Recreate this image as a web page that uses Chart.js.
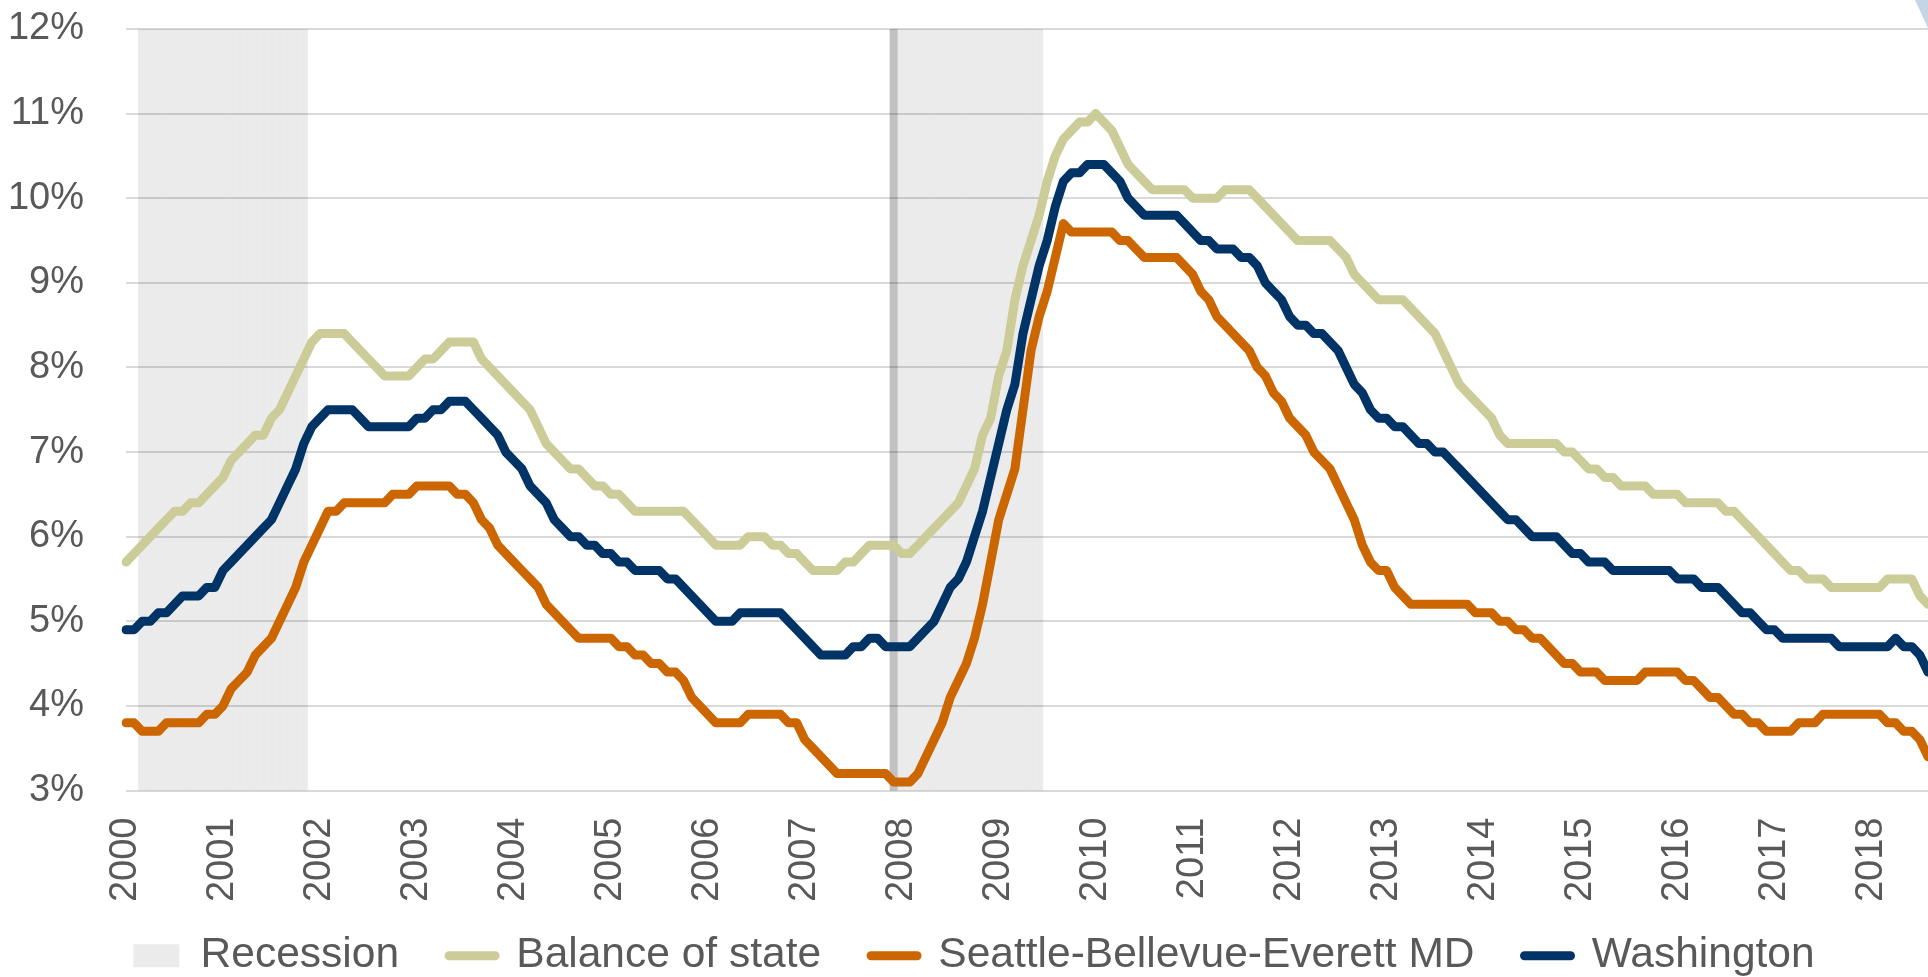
<!DOCTYPE html>
<html lang="en">
<head>
<meta charset="utf-8">
<title>Unemployment rate, Washington 2000-2018</title>
<script src="https://cdn.jsdelivr.net/npm/chart.js@4.4.1/dist/chart.umd.min.js"></script>
<style>
    html, body { margin: 0; padding: 0; background: #ffffff; }
    #chart-wrap { width: 1928px; height: 977px; }
</style>
</head>
<body>
<div id="chart-wrap"><canvas id="unemployment-chart" width="1928" height="977"></canvas></div>
<script>
// Monthly unemployment rate (%), Jan 2000 - Aug 2018, one row per year
const balanceOfState = [
    5.7, 5.8, 5.9, 6.0, 6.1, 6.2, 6.3, 6.3, 6.4, 6.4, 6.5, 6.6,
    6.7, 6.9, 7.0, 7.1, 7.2, 7.2, 7.4, 7.5, 7.7, 7.9, 8.1, 8.3,
    8.4, 8.4, 8.4, 8.4, 8.3, 8.2, 8.1, 8.0, 7.9, 7.9, 7.9, 7.9,
    8.0, 8.1, 8.1, 8.2, 8.3, 8.3, 8.3, 8.3, 8.1, 8.0, 7.9, 7.8,
    7.7, 7.6, 7.5, 7.3, 7.1, 7.0, 6.9, 6.8, 6.8, 6.7, 6.6, 6.6,
    6.5, 6.5, 6.4, 6.3, 6.3, 6.3, 6.3, 6.3, 6.3, 6.3, 6.2, 6.1,
    6.0, 5.9, 5.9, 5.9, 5.9, 6.0, 6.0, 6.0, 5.9, 5.9, 5.8, 5.8,
    5.7, 5.6, 5.6, 5.6, 5.6, 5.7, 5.7, 5.8, 5.9, 5.9, 5.9, 5.9,
    5.8, 5.8, 5.9, 6.0, 6.1, 6.2, 6.3, 6.4, 6.6, 6.8, 7.2, 7.4,
    7.9, 8.2, 8.8, 9.2, 9.5, 9.8, 10.2, 10.5, 10.7, 10.8, 10.9, 10.9,
    11.0, 10.9, 10.8, 10.6, 10.4, 10.3, 10.2, 10.1, 10.1, 10.1, 10.1, 10.1,
    10.0, 10.0, 10.0, 10.0, 10.1, 10.1, 10.1, 10.1, 10.0, 9.9, 9.8, 9.7,
    9.6, 9.5, 9.5, 9.5, 9.5, 9.5, 9.4, 9.3, 9.1, 9.0, 8.9, 8.8,
    8.8, 8.8, 8.8, 8.7, 8.6, 8.5, 8.4, 8.2, 8.0, 7.8, 7.7, 7.6,
    7.5, 7.4, 7.2, 7.1, 7.1, 7.1, 7.1, 7.1, 7.1, 7.1, 7.0, 7.0,
    6.9, 6.8, 6.8, 6.7, 6.7, 6.6, 6.6, 6.6, 6.6, 6.5, 6.5, 6.5,
    6.5, 6.4, 6.4, 6.4, 6.4, 6.4, 6.3, 6.3, 6.2, 6.1, 6.0, 5.9,
    5.8, 5.7, 5.6, 5.6, 5.5, 5.5, 5.5, 5.4, 5.4, 5.4, 5.4, 5.4,
    5.4, 5.4, 5.5, 5.5, 5.5, 5.5, 5.3, 5.2
];

const seattleBellevueEverett = [
    3.8, 3.8, 3.7, 3.7, 3.7, 3.8, 3.8, 3.8, 3.8, 3.8, 3.9, 3.9,
    4.0, 4.2, 4.3, 4.4, 4.6, 4.7, 4.8, 5.0, 5.2, 5.4, 5.7, 5.9,
    6.1, 6.3, 6.3, 6.4, 6.4, 6.4, 6.4, 6.4, 6.4, 6.5, 6.5, 6.5,
    6.6, 6.6, 6.6, 6.6, 6.6, 6.5, 6.5, 6.4, 6.2, 6.1, 5.9, 5.8,
    5.7, 5.6, 5.5, 5.4, 5.2, 5.1, 5.0, 4.9, 4.8, 4.8, 4.8, 4.8,
    4.8, 4.7, 4.7, 4.6, 4.6, 4.5, 4.5, 4.4, 4.4, 4.3, 4.1, 4.0,
    3.9, 3.8, 3.8, 3.8, 3.8, 3.9, 3.9, 3.9, 3.9, 3.9, 3.8, 3.8,
    3.6, 3.5, 3.4, 3.3, 3.2, 3.2, 3.2, 3.2, 3.2, 3.2, 3.2, 3.1,
    3.1, 3.1, 3.2, 3.4, 3.6, 3.8, 4.1, 4.3, 4.5, 4.8, 5.2, 5.7,
    6.2, 6.5, 6.8, 7.5, 8.2, 8.6, 8.9, 9.3, 9.7, 9.6, 9.6, 9.6,
    9.6, 9.6, 9.6, 9.5, 9.5, 9.4, 9.3, 9.3, 9.3, 9.3, 9.3, 9.2,
    9.1, 8.9, 8.8, 8.6, 8.5, 8.4, 8.3, 8.2, 8.0, 7.9, 7.7, 7.6,
    7.4, 7.3, 7.2, 7.0, 6.9, 6.8, 6.6, 6.4, 6.2, 5.9, 5.7, 5.6,
    5.6, 5.4, 5.3, 5.2, 5.2, 5.2, 5.2, 5.2, 5.2, 5.2, 5.2, 5.1,
    5.1, 5.1, 5.0, 5.0, 4.9, 4.9, 4.8, 4.8, 4.7, 4.6, 4.5, 4.5,
    4.4, 4.4, 4.4, 4.3, 4.3, 4.3, 4.3, 4.3, 4.4, 4.4, 4.4, 4.4,
    4.4, 4.3, 4.3, 4.2, 4.1, 4.1, 4.0, 3.9, 3.9, 3.8, 3.8, 3.7,
    3.7, 3.7, 3.7, 3.8, 3.8, 3.8, 3.9, 3.9, 3.9, 3.9, 3.9, 3.9,
    3.9, 3.9, 3.8, 3.8, 3.7, 3.7, 3.6, 3.4
];

const washington = [
    4.9, 4.9, 5.0, 5.0, 5.1, 5.1, 5.2, 5.3, 5.3, 5.3, 5.4, 5.4,
    5.6, 5.7, 5.8, 5.9, 6.0, 6.1, 6.2, 6.4, 6.6, 6.8, 7.1, 7.3,
    7.4, 7.5, 7.5, 7.5, 7.5, 7.4, 7.3, 7.3, 7.3, 7.3, 7.3, 7.3,
    7.4, 7.4, 7.5, 7.5, 7.6, 7.6, 7.6, 7.5, 7.4, 7.3, 7.2, 7.0,
    6.9, 6.8, 6.6, 6.5, 6.4, 6.2, 6.1, 6.0, 6.0, 5.9, 5.9, 5.8,
    5.8, 5.7, 5.7, 5.6, 5.6, 5.6, 5.6, 5.5, 5.5, 5.4, 5.3, 5.2,
    5.1, 5.0, 5.0, 5.0, 5.1, 5.1, 5.1, 5.1, 5.1, 5.1, 5.0, 4.9,
    4.8, 4.7, 4.6, 4.6, 4.6, 4.6, 4.7, 4.7, 4.8, 4.8, 4.7, 4.7,
    4.7, 4.7, 4.8, 4.9, 5.0, 5.2, 5.4, 5.5, 5.7, 6.0, 6.3, 6.7,
    7.1, 7.5, 7.8, 8.4, 8.8, 9.2, 9.5, 9.9, 10.2, 10.3, 10.3, 10.4,
    10.4, 10.4, 10.3, 10.2, 10.0, 9.9, 9.8, 9.8, 9.8, 9.8, 9.8, 9.7,
    9.6, 9.5, 9.5, 9.4, 9.4, 9.4, 9.3, 9.3, 9.2, 9.0, 8.9, 8.8,
    8.6, 8.5, 8.5, 8.4, 8.4, 8.3, 8.2, 8.0, 7.8, 7.7, 7.5, 7.4,
    7.4, 7.3, 7.3, 7.2, 7.1, 7.1, 7.0, 7.0, 6.9, 6.8, 6.7, 6.6,
    6.5, 6.4, 6.3, 6.2, 6.2, 6.1, 6.0, 6.0, 6.0, 6.0, 5.9, 5.8,
    5.8, 5.7, 5.7, 5.7, 5.6, 5.6, 5.6, 5.6, 5.6, 5.6, 5.6, 5.6,
    5.5, 5.5, 5.5, 5.4, 5.4, 5.4, 5.3, 5.2, 5.1, 5.1, 5.0, 4.9,
    4.9, 4.8, 4.8, 4.8, 4.8, 4.8, 4.8, 4.8, 4.7, 4.7, 4.7, 4.7,
    4.7, 4.7, 4.7, 4.8, 4.7, 4.7, 4.6, 4.4
];

// Shaded recession periods (first and last month), and the darker peak month
const recessionPeriods = [['2000-03', '2001-11'], ['2007-12', '2009-06']];
const cyclePeakMonths = ['2007-12'];

const yTickValues = [3, 4, 5, 6, 7, 8, 9, 10, 11, 12];
const startYear = 2000;

const FONT = "'Liberation Sans', Arial, sans-serif";
const TEXT_COLOR = '#595959';

document.addEventListener('DOMContentLoaded', function() {
    drawUnemploymentChart();
});

// month keys like 2000-01, one per data point
function buildMonths(count) {
    const months = [];
    for (let i = 0; i < count; i++) {
        const year = startYear + Math.floor(i / 12);
        const month = String(i % 12 + 1).padStart(2, '0');
        months.push(year + '-' + month);
    }
    return months;
}

// legend sits partly inside the space of the rotated year labels
const legendOffset = {
    id: 'legendOffset',
    afterLayout(chart, args, opts) {
        const legend = chart.legend;
        if (!legend) return;
        legend.left += opts.x;
        legend.right += opts.x;
        legend.top += opts.y;
        legend.bottom += opts.y;
    }
};

// thin light-blue wedge in the top right corner
const cornerAccent = {
    id: 'cornerAccent',
    afterDraw(chart) {
        const { ctx, width } = chart;
        ctx.save();
        ctx.fillStyle = '#c4d5e6';
        ctx.beginPath();
        ctx.moveTo(width - 13, 0);
        ctx.lineTo(width, 0);
        ctx.lineTo(width, 28);
        ctx.closePath();
        ctx.fill();
        ctx.restore();
    }
};

function drawUnemploymentChart() {
    const canvas = document.getElementById('unemployment-chart');
    const ctx = canvas.getContext('2d');

    const months = buildMonths(washington.length);
    const yMin = yTickValues[0];
    const yMax = yTickValues[yTickValues.length - 1];

    const recessionBars = months.map(m =>
        recessionPeriods.some(([from, to]) => m >= from && m <= to) ? yMax : null);
    const peakBars = months.map(m => cyclePeakMonths.includes(m) ? yMax : null);

    const lineStyle = {
        borderWidth: 9,
        pointRadius: 0,
        pointHoverRadius: 0,
        tension: 0,
        fill: false,
        borderJoinStyle: 'round',
        borderCapStyle: 'round'
    };

    const barStyle = {
        type: 'bar',
        barPercentage: 1,
        categoryPercentage: 1,
        grouped: false,
        inflateAmount: 0,
        borderWidth: 0
    };

    new Chart(ctx, {
        type: 'line',
        data: {
            labels: months,
            datasets: [{
                ...barStyle,
                label: 'Recession',
                data: recessionBars,
                backgroundColor: 'rgba(0, 0, 0, 0.078)',
                order: 4
            }, {
                ...barStyle,
                label: 'Recession peak',
                data: peakBars,
                backgroundColor: 'rgba(0, 0, 0, 0.18)',
                hideInLegend: true,
                order: 3
            }, {
                ...lineStyle,
                label: 'Balance of state',
                data: balanceOfState,
                borderColor: '#cccc99',
                backgroundColor: '#cccc99',
                order: 2
            }, {
                ...lineStyle,
                label: 'Seattle-Bellevue-Everett MD',
                data: seattleBellevueEverett,
                borderColor: '#cc6600',
                backgroundColor: '#cc6600',
                order: 1
            }, {
                ...lineStyle,
                label: 'Washington',
                data: washington,
                borderColor: '#003366',
                backgroundColor: '#003366',
                order: 0
            }]
        },
        options: {
            responsive: false,
            devicePixelRatio: 1,
            animation: false,
            layout: {
                padding: { top: 29, right: 0, bottom: -32, left: 0 }
            },
            plugins: {
                tooltip: { enabled: false },
                legendOffset: { x: 10, y: -22 },
                legend: {
                    position: 'bottom',
                    labels: {
                        usePointStyle: true,
                        pointStyleWidth: 46,
                        boxHeight: 23,
                        padding: 50,
                        color: TEXT_COLOR,
                        font: { family: FONT, size: 42.5 },
                        filter: (item, data) => !data.datasets[item.datasetIndex].hideInLegend,
                        sort: (a, b) => a.datasetIndex - b.datasetIndex,
                        generateLabels: function(chart) {
                            const items = Chart.defaults.plugins.legend.labels.generateLabels(chart);
                            items.forEach(item => {
                                const ds = chart.data.datasets[item.datasetIndex];
                                if (ds.type === 'bar') {
                                    item.pointStyle = 'rect';
                                } else {
                                    item.pointStyle = 'line';
                                    item.strokeStyle = ds.borderColor;
                                    item.lineWidth = ds.borderWidth;
                                    item.lineCap = 'round';
                                }
                            });
                            return items;
                        }
                    }
                }
            },
            scales: {
                x: {
                    type: 'category',
                    offset: false,
                    grid: { display: false, drawTicks: true, tickLength: 27 },
                    border: { display: false },
                    ticks: {
                        autoSkip: false,
                        minRotation: 90,
                        maxRotation: 90,
                        padding: 0,
                        color: TEXT_COLOR,
                        font: { family: FONT, size: 38 },
                        callback: function(value) {
                            const label = this.getLabelForValue(value);
                            return label.endsWith('-01') ? label.slice(0, 4) : null;
                        }
                    },
                    afterFit: scale => { scale.height = 116; }
                },
                y: {
                    min: yMin,
                    max: yMax,
                    grid: {
                        color: '#d9d9d9',
                        lineWidth: 2,
                        drawTicks: true,
                        tickLength: 42,
                        tickColor: 'rgba(0, 0, 0, 0)'
                    },
                    border: { display: false },
                    ticks: {
                        padding: 0,
                        color: TEXT_COLOR,
                        font: { family: FONT, size: 38 },
                        callback: value => value + '%'
                    },
                    afterBuildTicks: scale => {
                        scale.ticks = yTickValues.map(v => ({ value: v }));
                    },
                    afterFit: scale => { scale.width = 126; }
                }
            }
        },
        plugins: [legendOffset, cornerAccent]
    });
}
</script>
</body>
</html>
